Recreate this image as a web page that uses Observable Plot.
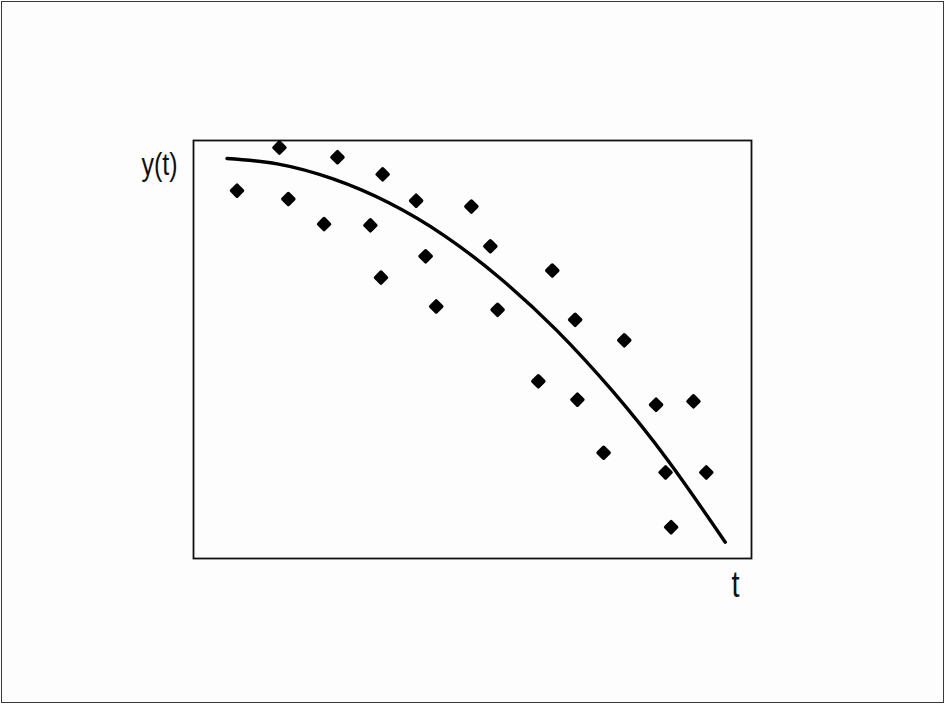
<!DOCTYPE html>
<html>
<head>
<meta charset="utf-8">
<script src="https://cdn.jsdelivr.net/npm/d3@7"></script>
<script src="https://cdn.jsdelivr.net/npm/@observablehq/plot@0.6"></script>
<style>
  html, body { margin: 0; padding: 0; background: #fdfdfd; }
  #chart svg { display: block; outline: 1.5px solid #3a3a3a; outline-offset: -2px; }
</style>
</head>
<body>
<div id="chart"></div>
<script>
// Observed samples: time t and measured response y
const obsT = [0.78, 1.54, 1.70, 2.34, 2.58, 3.17, 3.39, 3.36, 3.99, 4.16, 4.35, 4.98, 5.32,
              5.45, 6.18, 6.43, 6.84, 6.88, 7.35, 7.72, 8.29, 8.46, 8.56, 8.96, 9.19];
const obsY = [8.80, 9.83, 8.60, 8.00, 9.60, 7.97, 9.19, 6.72, 8.56, 7.23, 6.03, 8.42, 7.47,
              5.95, 4.24, 6.89, 5.71, 3.80, 2.53, 5.22, 3.68, 2.06, 0.75, 3.76, 2.06];

// Smooth trend y(t)
const fitT = [0.60, 1.50, 2.50, 3.50, 4.50, 5.50, 6.50, 7.50, 8.50, 9.53];
const fitY = [9.57, 9.44, 9.08, 8.51, 7.72, 6.70, 5.47, 4.02, 2.35, 0.39];

const points = obsT.map((t, i) => ({t, y: obsY[i]}));
const trend = fitT.map((t, i) => ({t, y: fitY[i]}));

const font = "'Liberation Sans', Arial, sans-serif";

const chart = Plot.plot({
  width: 945,
  height: 704,
  marginLeft: 193,
  marginRight: 194,
  marginTop: 140,
  marginBottom: 146,
  style: {background: "#fdfdfd", fontFamily: font, color: "#111"},
  x: {domain: [0, 10], axis: null},
  y: {domain: [0, 10], axis: null},
  marks: [
    Plot.frame({stroke: "#111", strokeWidth: 1.8}),
    Plot.line(trend, {x: "t", y: "y", curve: "natural", stroke: "#000", strokeWidth: 3.4}),
    Plot.dot(points, {x: "t", y: "y", symbol: "diamond2", r: 5.0, fill: "#000",
                      stroke: "#000", strokeWidth: 3.4, strokeLinejoin: "round"}),
    Plot.text(["y(t)"], {frameAnchor: "top-left", dx: -16, dy: 24, textAnchor: "end",
                         lineAnchor: "middle", fontSize: 25, fill: "#111", className: "tall-label"}),
    Plot.text(["t"], {frameAnchor: "bottom-right", dx: -16, dy: 27, textAnchor: "middle",
                      lineAnchor: "middle", fontSize: 29, fill: "#111", className: "tall-label"})
  ]
});

document.getElementById("chart").append(chart);

// Stretch the axis labels vertically about their own centre (narrow, tall lettering)
d3.select(chart).selectAll(".tall-label text").each(function() {
  const b = this.getBBox();
  const cy = b.y + b.height / 2;
  const s = 1.26;
  const prev = this.getAttribute("transform") || "";
  this.setAttribute("transform", `${prev} translate(0,${cy}) scale(1,${s}) translate(0,${-cy})`);
});
</script>
</body>
</html>
